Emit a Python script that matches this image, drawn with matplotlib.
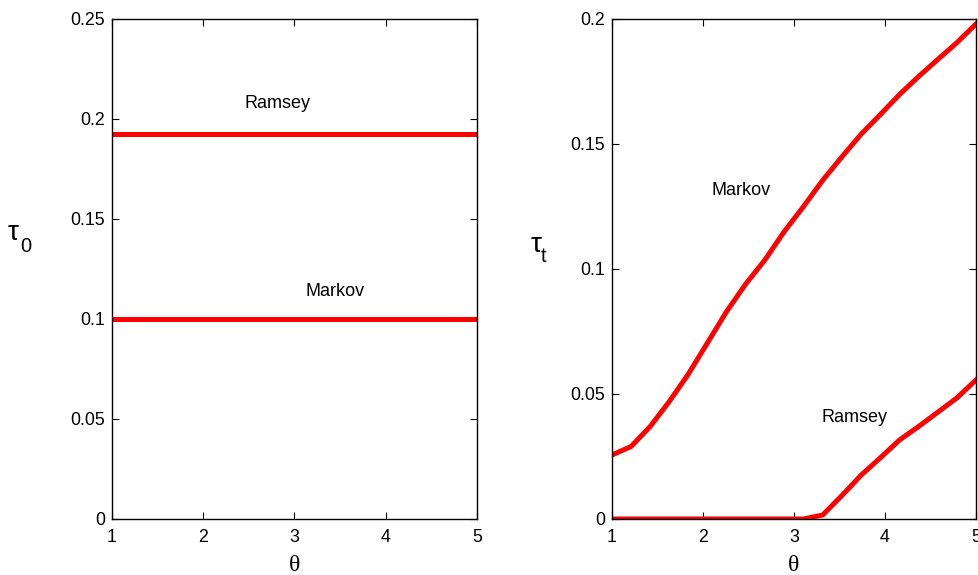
import matplotlib
matplotlib.use('Agg')
import matplotlib.pyplot as plt

plt.rcParams['font.family'] = ['Liberation Sans', 'DejaVu Sans']

# left panel: constant thresholds
theta_left = [1, 5]
ramsey_left = [0.1925, 0.1925]
markov_left = [0.1, 0.1]

# right panel: time-varying thresholds
theta = [1.0, 1.21, 1.42, 1.63, 1.84, 2.05, 2.26, 2.47, 2.68, 2.89,
         3.105, 3.316, 3.53, 3.74, 3.95, 4.16, 4.37, 4.58, 4.79, 5.0]
markov_t = [0.0256, 0.029, 0.037, 0.047, 0.058, 0.0705, 0.083, 0.094, 0.1036, 0.1148,
            0.125, 0.1355, 0.145, 0.154, 0.1618, 0.1698, 0.177, 0.1838, 0.1905, 0.198]
ramsey_t = [0, 0, 0, 0, 0, 0, 0, 0, 0, 0,
            0, 0.0016, 0.0095, 0.0176, 0.0245, 0.0316, 0.037, 0.0427, 0.0484, 0.0556]

fig = plt.figure(figsize=(9.79, 5.75), dpi=100)
ax1 = fig.add_axes([0.1144, 0.0974, 0.3728, 0.8696])
ax2 = fig.add_axes([0.6251, 0.0974, 0.3718, 0.8696])

for ax in (ax1, ax2):
    ax.tick_params(direction='in', top=True, right=True, length=5, width=0.8,
                   labelsize=12.8)
    ax.tick_params(axis='x', pad=7)
    ax.tick_params(axis='y', pad=5)
    ax.set_xlim(1, 5)
    ax.set_xticks([1, 2, 3, 4, 5])
    for s in ax.spines.values():
        s.set_linewidth(1.0)

red = (1, 0, 0)
ax1.plot(theta_left, ramsey_left, color=red, lw=3.6, solid_capstyle='butt')
ax1.plot(theta_left, markov_left, color=red, lw=3.6, solid_capstyle='butt')
ax1.set_ylim(0, 0.25)
ax1.set_yticks([0, 0.05, 0.1, 0.15, 0.2, 0.25])
ax1.set_yticklabels(['0', '0.05', '0.1', '0.15', '0.2', '0.25'])
ax1.text(2.81, 0.2075, 'Ramsey', fontsize=13, ha='center', va='center')
ax1.text(3.45, 0.1135, 'Markov', fontsize=13, ha='center', va='center')
ax1.set_xlabel('θ', family='Liberation Serif', fontsize=17)
ax1.xaxis.set_label_coords(0.5, -0.072)

ax2.plot(theta, markov_t, color=red, lw=3.6, solid_joinstyle='miter')
ax2.plot(theta, ramsey_t, color=red, lw=3.6, solid_joinstyle='miter')
ax2.set_ylim(0, 0.2)
ax2.set_yticks([0, 0.05, 0.1, 0.15, 0.2])
ax2.set_yticklabels(['0', '0.05', '0.1', '0.15', '0.2'])
ax2.text(2.42, 0.1312, 'Markov', fontsize=13, ha='center', va='center')
ax2.text(3.66, 0.0404, 'Ramsey', fontsize=13, ha='center', va='center')
ax2.set_xlabel('θ', family='Liberation Serif', fontsize=17)
ax2.xaxis.set_label_coords(0.5, -0.072)

# y labels: tau with a full-size, lowered subscript
ax1.text(-0.285, 0.558, 'τ', transform=ax1.transAxes, fontsize=20, ha='left', va='baseline')
ax1.text(-0.252, 0.534, '0', transform=ax1.transAxes, fontsize=14.5, ha='left', va='baseline')
ax2.text(-0.2225, 0.534, 'τ', transform=ax2.transAxes, fontsize=20, ha='left', va='baseline')
ax2.text(-0.195, 0.514, 't', transform=ax2.transAxes, fontsize=14.5, ha='left', va='baseline')

fig.savefig('out.png', dpi=100)
